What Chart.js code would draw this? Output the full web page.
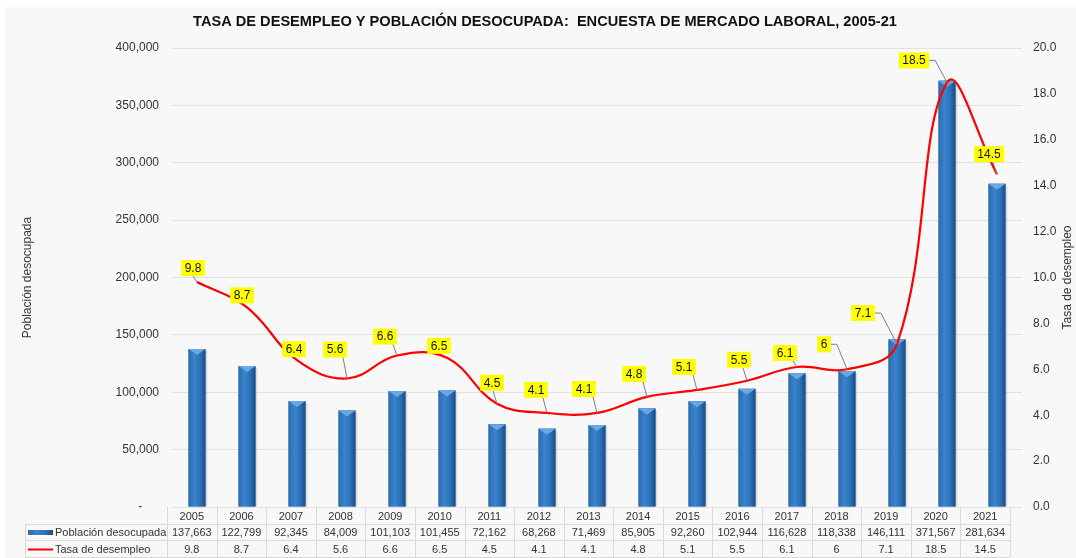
<!DOCTYPE html>
<html>
<head>
<meta charset="utf-8">
<script src="https://cdn.jsdelivr.net/npm/chart.js@4.4.1/dist/chart.umd.min.js"></script>
<style>
  html, body { margin: 0; padding: 0; background: #fff; }
  #wrap { width: 1076px; height: 558px; }
</style>
</head>
<body>
<div id="wrap"><canvas id="chart" width="1076" height="558"></canvas></div>
<script>
const years = ['2005', '2006', '2007', '2008', '2009', '2010', '2011', '2012', '2013',
  '2014', '2015', '2016', '2017', '2018', '2019', '2020', '2021'];
const poblacion = [137663, 122799, 92345, 84009, 101103, 101455, 72162, 68268, 71469,
  85905, 92260, 102944, 116628, 118338, 146111, 371567, 281634];
const tasa = [9.8, 8.7, 6.4, 5.6, 6.6, 6.5, 4.5, 4.1, 4.1, 4.8, 5.1, 5.5, 6.1, 6, 7.1, 18.5, 14.5];

// where each yellow label sits relative to its point (px)
const labelOffsets = [[-4, -14], [-5, -12], [-3, -11], [-12, -29], [-12, -19], [-8, -12],
  [-5, -21], [-11, -23], [-13, -24], [-13, -23], [-13, -23], [-8, -21], [-12, -14],
  [-23, -25], [-34, -31], [-33, -22], [-8, -20]];

const title = 'TASA DE DESEMPLEO Y POBLACIÓN DESOCUPADA:  ENCUESTA DE MERCADO LABORAL, 2005-21';
const FONT = '"Liberation Sans", Arial, sans-serif';
const TEXT = '#333333';

const fmt = v => v.toLocaleString('en-US');

function barGradient(c, x0, w) {
  const g = c.createLinearGradient(x0, 0, x0 + w, 0);
  g.addColorStop(0, '#2d6aab');
  g.addColorStop(0.35, '#3884cd');
  g.addColorStop(0.7, '#2b71b8');
  g.addColorStop(1, '#1b4b82');
  return g;
}

const decor = {
  id: 'decor',
  beforeDraw(chart) {
    const c = chart.ctx;
    c.save();
    c.fillStyle = '#ffffff';
    c.fillRect(0, 0, chart.width, chart.height);
    c.fillStyle = '#f8f8f8';
    c.fillRect(5, 7, chart.width - 5, chart.height - 7);

    c.fillStyle = '#111';
    c.font = 'bold 14.6px ' + FONT;
    c.textAlign = 'center';
    c.textBaseline = 'middle';
    c.fillText(title, 545, 22);

    const area = chart.chartArea;
    const midY = (area.top + area.bottom) / 2;
    c.font = '12px ' + FONT;
    c.fillStyle = TEXT;
    [28, 1068].forEach((x, i) => {
      c.save();
      c.translate(x, midY);
      c.rotate(-Math.PI / 2);
      c.fillText(i === 0 ? 'Población desocupada' : 'Tasa de desempleo', 0, 0);
      c.restore();
    });
    c.restore();
  },
  afterDatasetDraw(chart, args) {
    if (args.index !== 0) return;
    const c = chart.ctx;
    c.save();
    args.meta.data.forEach(b => {
      const w = b.width, x0 = b.x - w / 2, top = b.y, bot = b.base;
      c.fillStyle = 'rgba(0,0,0,0.10)';
      c.fillRect(x0 + w, top + 2, 2, bot - top - 2);
      c.fillStyle = barGradient(c, x0, w);
      c.fillRect(x0, top, w, bot - top);
      c.fillStyle = '#6aa8e4';
      c.beginPath();
      c.moveTo(x0, top);
      c.lineTo(x0 + w, top);
      c.lineTo(b.x, top + 6);
      c.closePath();
      c.fill();
    });
    c.restore();
  },
  afterDatasetsDraw(chart) {
    const c = chart.ctx;
    const pts = chart.getDatasetMeta(1).data;
    c.save();
    c.font = '12px ' + FONT;
    c.textAlign = 'center';
    c.textBaseline = 'middle';
    pts.forEach((p, i) => {
      const txt = String(tasa[i]);
      const w = c.measureText(txt).width + 7, h = 16;
      const cx = p.x + labelOffsets[i][0], cy = p.y + labelOffsets[i][1];
      const L = cx - w / 2, R = cx + w / 2, T = cy - h / 2, B = cy + h / 2;
      // leader line
      c.strokeStyle = '#7f7f7f';
      c.lineWidth = 1;
      c.beginPath();
      if (p.x > R + 6) {
        c.moveTo(R, cy);
        c.lineTo(R + 6, cy);
        c.lineTo(p.x, p.y);
        c.stroke();
      } else if (p.y > B + 5) {
        c.moveTo(Math.min(Math.max(p.x - 4, L), R), B);
        c.lineTo(p.x, p.y);
        c.stroke();
      }
      c.fillStyle = '#ffff00';
      c.fillRect(L, T, w, h);
      c.fillStyle = '#111';
      c.fillText(txt, cx, cy + 0.5);
    });
    c.restore();
  },
  afterDraw(chart) {
    const c = chart.ctx;
    const area = chart.chartArea;
    const tL = area.left - 5, tR = area.right - 12;
    const colW = (tR - tL) / years.length;
    const rows = [area.bottom, area.bottom + 17, area.bottom + 33, area.bottom + 50];
    const legL = 25;
    c.save();
    c.strokeStyle = '#d9d9d9';
    c.lineWidth = 1;
    c.beginPath();
    [1, 2, 3].forEach(r => {
      c.moveTo(legL, rows[r] + 0.5);
      c.lineTo(tR, rows[r] + 0.5);
    });
    for (let i = 0; i <= years.length; i++) {
      const x = Math.round(tL + i * colW) + 0.5;
      c.moveTo(x, rows[0]);
      c.lineTo(x, rows[3]);
    }
    c.moveTo(legL + 0.5, rows[1]);
    c.lineTo(legL + 0.5, rows[3]);
    c.stroke();

    c.fillStyle = TEXT;
    c.font = '11px ' + FONT;
    c.textAlign = 'center';
    c.textBaseline = 'middle';
    years.forEach((y, i) => {
      const cx = tL + (i + 0.5) * colW;
      c.fillText(y, cx, (rows[0] + rows[1]) / 2 + 1);
      c.fillText(fmt(poblacion[i]), cx, (rows[1] + rows[2]) / 2 + 1);
      c.fillText(String(tasa[i]), cx, (rows[2] + rows[3]) / 2 + 1);
    });

    // legend keys
    const y1 = (rows[1] + rows[2]) / 2, y2 = (rows[2] + rows[3]) / 2;
    c.fillStyle = barGradient(c, 28, 25);
    c.fillRect(28, y1 - 2, 25, 5);
    c.strokeStyle = '#ff0000';
    c.lineWidth = 2;
    c.beginPath();
    c.moveTo(28, y2 + 1);
    c.lineTo(53, y2 + 1);
    c.stroke();
    c.fillStyle = TEXT;
    c.textAlign = 'left';
    c.fillText('Población desocupada', 55, y1 + 1);
    c.fillText('Tasa de desempleo', 55, y2 + 1);
    c.restore();
  }
};

new Chart(document.getElementById('chart'), {
  data: {
    labels: years,
    datasets: [
      {
        type: 'bar',
        label: 'Población desocupada',
        data: poblacion,
        yAxisID: 'y',
        backgroundColor: '#2e75b6',
        barPercentage: 1,
        categoryPercentage: 0.34,
        order: 1
      },
      {
        type: 'line',
        label: 'Tasa de desempleo',
        data: tasa,
        yAxisID: 'y1',
        borderColor: '#ff0000',
        borderWidth: 2.2,
        pointRadius: 0,
        tension: 0.4,
        fill: false,
        order: 0
      }
    ]
  },
  options: {
    responsive: false,
    animation: false,
    layout: { padding: { top: 48, left: 0, right: 0, bottom: 0 } },
    plugins: {
      legend: { display: false },
      tooltip: { enabled: false },
      title: { display: false }
    },
    scales: {
      x: {
        grid: { display: false },
        border: { display: false },
        ticks: { display: false },
        afterFit(s) { s.height = 51; }
      },
      y: {
        position: 'left',
        min: 0,
        max: 400000,
        ticks: {
          stepSize: 50000,
          padding: 13,
          color: TEXT,
          font: { family: FONT, size: 12 },
          callback: v => v === 0 ? '-     ' : fmt(v)
        },
        grid: { color: '#e2e2e2', drawTicks: false },
        border: { display: false },
        afterFit(s) { s.width = 172; }
      },
      y1: {
        position: 'right',
        min: 0,
        max: 20,
        ticks: {
          stepSize: 2,
          padding: 11,
          color: TEXT,
          font: { family: FONT, size: 12 },
          callback: v => v.toFixed(1)
        },
        grid: { display: false, drawTicks: false },
        border: { display: false },
        afterFit(s) { s.width = 54; }
      }
    }
  },
  plugins: [decor]
});
</script>
</body>
</html>
